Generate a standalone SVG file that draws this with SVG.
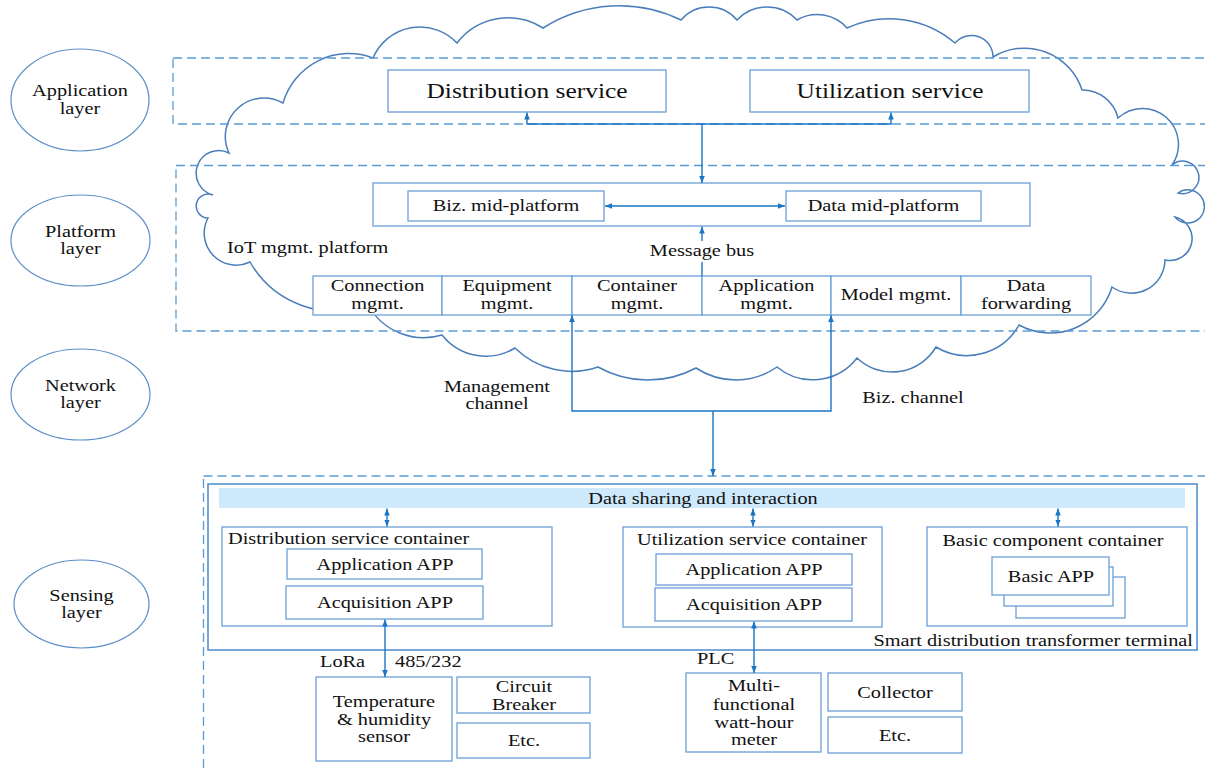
<svg xmlns="http://www.w3.org/2000/svg" width="1205" height="769" viewBox="0 0 1205 769">
<style>
.t{font-family:"Liberation Serif","Times New Roman",serif;font-size:16px;fill:#111;text-anchor:middle}
.s{text-anchor:start}
.e{text-anchor:end}
.big{font-size:20px}
.box{fill:#fff;stroke:#6a9fd6;stroke-width:1.3}
.dash{fill:none;stroke:#5b9bd5;stroke-width:1.3;stroke-dasharray:9 5}
.ell{fill:#fff;stroke:#5b8ec8;stroke-width:1.2}
.cloud{fill:#fff;stroke:#4a7ebb;stroke-width:1.5}
.c{fill:none;stroke:#1a75c4;stroke-width:1.4}
.ah{marker-end:url(#arr)}
.dh{marker-start:url(#arr);marker-end:url(#arr)}
</style>
<defs>
<marker id="arr" viewBox="0 0 10 10" refX="10" refY="5" markerUnits="userSpaceOnUse" markerWidth="7" markerHeight="7" orient="auto-start-reverse">
<path d="M0,1 L10,5 L0,9 z" fill="#1a75c4"/>
</marker>
</defs>
<rect width="1205" height="769" fill="#fff"/>

<g id="layers">
<g id="app-layer"><ellipse class="ell" cx="80" cy="100" rx="69" ry="51"/>
<text class="t" transform="matrix(1.27 0 0 1 80 96)">Application</text>
<text class="t" transform="matrix(1.27 0 0 1 80 114)">layer</text></g>
<g id="platform-layer"><ellipse class="ell" cx="80.5" cy="240.5" rx="69.5" ry="45.5"/>
<text class="t" transform="matrix(1.27 0 0 1 80.5 237)">Platform</text>
<text class="t" transform="matrix(1.27 0 0 1 80.5 254)">layer</text></g>
<g id="network-layer"><ellipse class="ell" cx="80.5" cy="394.5" rx="69.5" ry="45.5"/>
<text class="t" transform="matrix(1.27 0 0 1 80.5 391)">Network</text>
<text class="t" transform="matrix(1.27 0 0 1 80.5 408)">layer</text></g>
<g id="sensing-layer"><ellipse class="ell" cx="81.5" cy="604" rx="67.5" ry="44"/>
<text class="t" transform="matrix(1.27 0 0 1 81.5 601)">Sensing</text>
<text class="t" transform="matrix(1.27 0 0 1 81.5 618)">layer</text></g>
</g>

<g id="cloud">
<path class="cloud" d="M368,305 A97,97 0 0 1 250,262 A32,32 0 0 1 208,218 A12,12 0 1 1 213,195 A22.6,22.6 0 1 1 229,153 A38.6,38.6 0 0 1 283,103 A68.5,68.5 0 0 1 373,58 A51,51 0 0 1 457,43 A64.5,64.5 0 0 1 543,28 A141,141 0 0 1 681,20 A36.6,36.6 0 0 1 737,20 A41,41 0 0 1 797,20 A40,40 0 0 1 847,28 A101,101 0 0 1 955,43 A21.6,21.6 0 0 1 993,57 A60.5,60.5 0 0 1 1082,90 A36.5,36.5 0 0 1 1118,118 A36,36 0 0 1 1172,165 A16.3,16.3 0 1 1 1178,193 A16.6,16.6 0 1 1 1175,217 A22,22 0 0 1 1165,260 A33.6,33.6 0 0 1 1112,287 A64.6,64.6 0 0 1 1019,325 A60,60 0 0 1 936,347 A51,51 0 0 1 857,358 A56,56 0 0 1 777,367 A72,72 0 0 1 696,368 A102,102 0 0 1 598,367 A81,81 0 0 1 515,348 A56,56 0 0 1 442,335 A64,64 0 0 1 368,305 Z"/>
</g>

<g id="zones">
<rect class="dash" x="173" y="58" width="1045" height="66"/>
<rect class="dash" x="176" y="165.5" width="1045" height="165.5"/>
<rect class="dash" x="203.5" y="476" width="1015" height="300"/>
</g>

<g id="distribution-service"><rect class="box" x="388" y="70" width="278" height="42"/>
<text class="t big" transform="matrix(1.27 0 0 1 527 97.5)">Distribution service</text></g>
<g id="utilization-service"><rect class="box" x="750" y="70" width="279" height="42"/>
<text class="t big" transform="matrix(1.27 0 0 1 890 97.5)">Utilization service</text></g>

<g id="mid-platform"><rect class="box" x="373" y="183" width="657" height="43"/></g>
<g id="biz-mid"><rect class="box" x="408" y="191" width="196" height="30"/>
<text class="t" transform="matrix(1.27 0 0 1 506 211)">Biz. mid-platform</text></g>
<g id="data-mid"><rect class="box" x="786" y="191" width="195" height="30"/>
<text class="t" transform="matrix(1.27 0 0 1 883.5 211)">Data mid-platform</text></g>

<g id="iot-label"><text class="t s" transform="matrix(1.27 0 0 1 227 253)">IoT mgmt. platform</text></g>
<g id="message-bus"><text class="t" transform="matrix(1.27 0 0 1 702 256)">Message bus</text></g>

<g id="connection-mgmt"><rect class="box" x="313" y="276" width="129" height="39"/>
<text class="t" transform="matrix(1.27 0 0 1 377.5 291)">Connection</text>
<text class="t" transform="matrix(1.27 0 0 1 377.5 309)">mgmt.</text></g>
<g id="equipment-mgmt"><rect class="box" x="442" y="276" width="130" height="39"/>
<text class="t" transform="matrix(1.27 0 0 1 507 291)">Equipment</text>
<text class="t" transform="matrix(1.27 0 0 1 507 309)">mgmt.</text></g>
<g id="container-mgmt"><rect class="box" x="572" y="276" width="130" height="39"/>
<text class="t" transform="matrix(1.27 0 0 1 637 291)">Container</text>
<text class="t" transform="matrix(1.27 0 0 1 637 309)">mgmt.</text></g>
<g id="application-mgmt"><rect class="box" x="702" y="276" width="129" height="39"/>
<text class="t" transform="matrix(1.27 0 0 1 766.5 291)">Application</text>
<text class="t" transform="matrix(1.27 0 0 1 766.5 309)">mgmt.</text></g>
<g id="model-mgmt"><rect class="box" x="831" y="276" width="130" height="39"/>
<text class="t" transform="matrix(1.27 0 0 1 896 300)">Model mgmt.</text></g>
<g id="data-forwarding"><rect class="box" x="961" y="276" width="130" height="39"/>
<text class="t" transform="matrix(1.27 0 0 1 1026 291)">Data</text>
<text class="t" transform="matrix(1.27 0 0 1 1026 309)">forwarding</text></g>

<g id="channel-labels">
<text class="t" transform="matrix(1.27 0 0 1 497 392)">Management</text>
<text class="t" transform="matrix(1.27 0 0 1 497 409)">channel</text>
<text class="t" transform="matrix(1.27 0 0 1 913 403)">Biz. channel</text>
</g>

<g id="terminal"><rect x="208" y="484" width="989" height="166" fill="none" stroke="#4a8ad0" stroke-width="1.5"/>
<text class="t e" transform="matrix(1.27 0 0 1 1193 645.5)">Smart distribution transformer terminal</text></g>
<g id="data-sharing"><rect x="219" y="488" width="966" height="20" fill="#cde9fb"/>
<text class="t" transform="matrix(1.27 0 0 1 703 503.5)">Data sharing and interaction</text></g>

<g id="dist-container"><rect class="box" x="222" y="527" width="330" height="99"/>
<text class="t s" transform="matrix(1.27 0 0 1 228 543.5)">Distribution service container</text></g>
<g id="dist-app"><rect class="box" x="287" y="549" width="195" height="30"/>
<text class="t" transform="matrix(1.27 0 0 1 385 569.5)">Application APP</text></g>
<g id="dist-acq"><rect class="box" x="286" y="586" width="197" height="33"/>
<text class="t" transform="matrix(1.27 0 0 1 385 608)">Acquisition APP</text></g>

<g id="util-container"><rect class="box" x="623" y="527" width="259" height="100"/>
<text class="t" transform="matrix(1.27 0 0 1 752 544.5)">Utilization service container</text></g>
<g id="util-app"><rect class="box" x="656" y="554" width="196" height="31"/>
<text class="t" transform="matrix(1.27 0 0 1 754 575)">Application APP</text></g>
<g id="util-acq"><rect class="box" x="655" y="588" width="197" height="33"/>
<text class="t" transform="matrix(1.27 0 0 1 754 609.5)">Acquisition APP</text></g>

<g id="basic-container"><rect class="box" x="927" y="527" width="260" height="99"/>
<text class="t" transform="matrix(1.27 0 0 1 1053 545.5)">Basic component container</text></g>
<g id="basic-app">
<rect class="box" x="1016" y="577" width="109" height="41"/>
<rect class="box" x="1004" y="567" width="109" height="39"/>
<rect class="box" x="992" y="557" width="117" height="38"/>
<text class="t" transform="matrix(1.27 0 0 1 1051 581.5)">Basic APP</text></g>

<g id="link-labels">
<text class="t s" transform="matrix(1.27 0 0 1 320 667)">LoRa</text>
<text class="t s" transform="matrix(1.27 0 0 1 395 667)">485/232</text>
<text class="t s" transform="matrix(1.27 0 0 1 697 663.5)">PLC</text>
</g>

<g id="temp-sensor"><rect class="box" x="316" y="677" width="136" height="84"/>
<text class="t" transform="matrix(1.27 0 0 1 384 707)">Temperature</text>
<text class="t" transform="matrix(1.27 0 0 1 384 724.5)">&amp; humidity</text>
<text class="t" transform="matrix(1.27 0 0 1 384 742)">sensor</text></g>
<g id="circuit-breaker"><rect class="box" x="457" y="677" width="133" height="36"/>
<text class="t" transform="matrix(1.27 0 0 1 524 692)">Circuit</text>
<text class="t" transform="matrix(1.27 0 0 1 524 709.5)">Breaker</text></g>
<g id="etc-1"><rect class="box" x="457" y="723" width="133" height="35"/>
<text class="t" transform="matrix(1.27 0 0 1 524 746)">Etc.</text></g>
<g id="meter"><rect class="box" x="686" y="673" width="135" height="79"/>
<text class="t" transform="matrix(1.27 0 0 1 754 691)">Multi-</text>
<text class="t" transform="matrix(1.27 0 0 1 754 709.5)">functional</text>
<text class="t" transform="matrix(1.27 0 0 1 754 727.5)">watt-hour</text>
<text class="t" transform="matrix(1.27 0 0 1 754 744.5)">meter</text></g>
<g id="collector"><rect class="box" x="828" y="673" width="134" height="38"/>
<text class="t" transform="matrix(1.27 0 0 1 895 698)">Collector</text></g>
<g id="etc-2"><rect class="box" x="828" y="717" width="134" height="36"/>
<text class="t" transform="matrix(1.27 0 0 1 895 740.5)">Etc.</text></g>

<g id="connectors">
<path class="c ah" d="M702,124 H527 V112.5"/>
<path class="c ah" d="M702,124 H891 V112.5"/>
<path class="c ah" d="M702,124 V183"/>
<path class="c dh" d="M605,206 H785"/>
<path class="c" d="M702,276 V262"/>
<path class="c ah" d="M702,241 V226.5"/>
<path class="c ah" d="M713,411 H572 V315"/>
<path class="c ah" d="M713,411 H831 V315"/>
<path class="c ah" d="M713,411 V476"/>
<path class="c dh" d="M387,508.5 V526.5"/>
<path class="c dh" d="M753,508.5 V526.5"/>
<path class="c dh" d="M1058,508.5 V526.5"/>
<path class="c dh" d="M385,619.5 V677"/>
<path class="c dh" d="M754,621.5 V673"/>
</g>
</svg>
